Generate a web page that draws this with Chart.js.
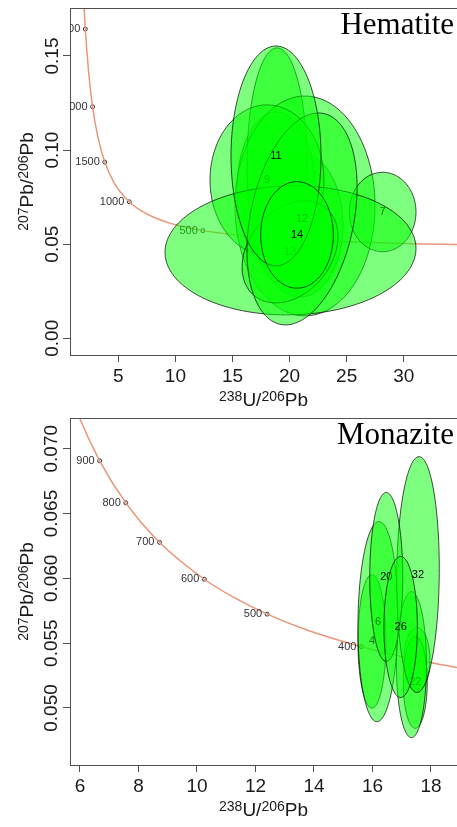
<!DOCTYPE html>
<html>
<head>
<meta charset="utf-8">
<script src="https://cdn.jsdelivr.net/npm/chart.js@4.4.1/dist/chart.umd.min.js"></script>
<style>
html, body { margin: 0; padding: 0; background: #fff; overflow: hidden; }
#wrap { position: relative; width: 457px; height: 827px; }
canvas { position: absolute; left: 0; }
</style>
</head>
<body>
<div id="wrap">
  <canvas id="hem" width="457" height="410" style="top:0"></canvas>
  <canvas id="mon" width="457" height="417" style="top:410px"></canvas>
</div>
<script>
// ---------- Hematite: U-Pb ellipses (centre, half-extent in x and y, correlation), in drawing order ----------
const hemLabels = ['',    '',    '',    '',    '8',   '9',   '7',   '',    '13',  '12',  '11',  '14'];
const hemX      = [20.74, 20.91, 18.81, 18.90, 21.35, 18.02, 28.15, 20.08, 20.04, 21.09, 18.81, 20.65];
const hemY      = [0.0565,0.0602,0.0788,0.0921,0.0703,0.0841,0.0671,0.0467,0.0459,0.0634,0.0969,0.0549];
const hemSX     = [2.98,  3.77,  3.42,  2.63,  6.13,  4.99,  2.92,  10.99, 4.20,  4.82,  3.94,  3.18];
const hemSY     = [0.0266,0.0383,0.0414,0.0622,0.0584,0.0399,0.0211,0.0343,0.0271,0.0563,0.0584,0.0283];
const hemRho    = [0,     0,     0,     0,     0,     0,     0,     0.03,  0.3,   0.3,   0,     0];

// Tera-Wasserburg concordia (238U/206Pb, 207Pb/206Pb) by age in Ma
const hemCurveAge = [2700, 2500, 2250, 2000, 1750, 1500, 1250, 1000, 850, 750, 650, 600, 500, 450, 400, 350, 300, 250, 225, 200, 175];
const hemCurveX   = [1.922, 2.111, 2.394, 2.749, 3.206, 3.817, 4.673, 5.959, 7.095, 8.105, 9.426, 10.252, 12.399, 13.831, 15.621, 17.923, 20.992, 25.289, 28.154, 31.735, 36.339];
const hemCurveY   = [0.1853, 0.1643, 0.1419, 0.1230, 0.1071, 0.0936, 0.0822, 0.0725, 0.0674, 0.0643, 0.0613, 0.0599, 0.0572, 0.0560, 0.0547, 0.0535, 0.0524, 0.0512, 0.0507, 0.0501, 0.0496];
const hemAgeTicks = [2500, 2000, 1500, 1000, 500];
const hemAgeX     = [2.111, 2.749, 3.817, 5.959, 12.399];
const hemAgeY     = [0.1643, 0.1230, 0.0936, 0.0725, 0.0572];

const hemXTicks = [5, 10, 15, 20, 25, 30];
const hemYTicks = [0.00, 0.05, 0.10, 0.15];

// ---------- Monazite ----------
const monLabels = ['4',    '6',    '',     '22',   '',     '32',   '20',   '26'];
const monX      = [15.983, 16.188, 17.521, 17.463, 17.333, 17.556, 16.472, 16.964];
const monY      = [0.05514,0.05666,0.05373,0.05198,0.05334,0.06029,0.06011,0.05625];
const monSX     = [0.479,  0.684,  0.444,  0.410,  0.513,  0.728,  0.564,  0.571];
const monSY     = [0.00515,0.00772,0.00247,0.00355,0.00563,0.00910,0.00652,0.00544];
const monRho    = [0,      0.05,   0,      0,      0,      0.05,   0,      0];

const monCurveAge = [1100, 1000, 900, 800, 700, 600, 550, 500, 450, 400, 375, 350, 325];
const monCurveX   = [5.375, 5.959, 6.674, 7.568, 8.718, 10.252, 11.228, 12.399, 13.831, 15.621, 16.695, 17.923, 19.339];
const monCurveY   = [0.07622, 0.07253, 0.06907, 0.06583, 0.06278, 0.05993, 0.05857, 0.05724, 0.05596, 0.05473, 0.05412, 0.05352, 0.05293];
const monAgeTicks = [900, 800, 700, 600, 500, 400];
const monAgeX     = [6.674, 7.568, 8.718, 10.252, 12.399, 15.621];
const monAgeY     = [0.06907, 0.06583, 0.06278, 0.05993, 0.05724, 0.05473];

const monXTicks = [6, 8, 10, 12, 14, 16, 18];
const monYTicks = [0.050, 0.055, 0.060, 0.065, 0.070];

// ---------- drawing helpers ----------
const SANS = '"Liberation Sans", Arial, Helvetica, sans-serif';
const SERIF = '"Liberation Serif", "Times New Roman", serif';
const AXIS_COL = '#505050';
const TEXT_COL = '#1a1a1a';

// isotope ratio label with superscript mass numbers
function drawRatio(ctx, parts, align) {
  const big = '19px ' + SANS, small = '14px ' + SANS;
  let w = 0;
  parts.forEach(p => { ctx.font = p.sup ? small : big; w += ctx.measureText(p.t).width; });
  let x = align === 'center' ? -w / 2 : 0;
  ctx.textAlign = 'left';
  ctx.textBaseline = 'alphabetic';
  parts.forEach(p => {
    ctx.font = p.sup ? small : big;
    ctx.fillText(p.t, x, p.sup ? -5 : 0);
    x += ctx.measureText(p.t).width;
  });
}

function ellipsePath(ctx, xs, ys, cx, cy, a, b, rho) {
  const n = 160, r2 = Math.sqrt(1 - rho * rho);
  ctx.beginPath();
  for (let i = 0; i <= n; i++) {
    const t = i / n * 2 * Math.PI;
    const px = xs.getPixelForValue(cx + a * Math.cos(t));
    const py = ys.getPixelForValue(cy + b * (rho * Math.cos(t) + r2 * Math.sin(t)));
    if (i === 0) ctx.moveTo(px, py); else ctx.lineTo(px, py);
  }
  ctx.closePath();
}

function concordiaPlugin(spec) {
  return {
    id: 'concordia',
    afterDatasetsDraw(chart) {
      const ctx = chart.ctx, area = chart.chartArea;
      const xs = chart.scales.x, ys = chart.scales.y;
      ctx.save();
      ctx.beginPath();
      ctx.rect(area.left, area.top, area.right - area.left, area.bottom - area.top);
      ctx.clip();
      // age labels beside the concordia markers
      ctx.font = '11px ' + SANS;
      ctx.fillStyle = '#333';
      ctx.textAlign = 'right';
      ctx.textBaseline = 'middle';
      spec.ages.forEach((age, i) => {
        ctx.fillText(String(age), xs.getPixelForValue(spec.ageX[i]) - 5, ys.getPixelForValue(spec.ageY[i]));
      });
      // error ellipses, each followed by its aliquot number
      const e = spec.ell;
      e.x.forEach((cx, i) => {
        ellipsePath(ctx, xs, ys, cx, e.y[i], e.sx[i], e.sy[i], e.rho[i]);
        ctx.fillStyle = 'rgba(0,255,0,0.5)';
        ctx.fill();
        ctx.strokeStyle = 'rgba(0,0,0,0.7)';
        ctx.lineWidth = 1;
        ctx.stroke();
        if (e.labels[i]) {
          ctx.font = '11px ' + SANS;
          ctx.fillStyle = '#000';
          ctx.textAlign = 'center';
          ctx.textBaseline = 'middle';
          ctx.fillText(e.labels[i], xs.getPixelForValue(cx), ys.getPixelForValue(e.y[i]));
        }
      });
      ctx.restore();
    },
    afterDraw(chart) {
      const ctx = chart.ctx, area = chart.chartArea;
      ctx.save();
      // top edge of the plot frame
      ctx.strokeStyle = AXIS_COL;
      ctx.lineWidth = 1;
      ctx.beginPath();
      ctx.moveTo(area.left, area.top + 0.5);
      ctx.lineTo(chart.width, area.top + 0.5);
      ctx.stroke();
      // mineral name
      ctx.fillStyle = '#000';
      ctx.font = '31px ' + SERIF;
      ctx.textAlign = 'right';
      ctx.textBaseline = 'alphabetic';
      ctx.fillText(spec.title, 454, area.top + 26);
      // axis titles
      ctx.fillStyle = TEXT_COL;
      ctx.save();
      ctx.translate((area.left + area.right) / 2, area.bottom + 51);
      drawRatio(ctx, [{t: '238', sup: true}, {t: 'U/'}, {t: '206', sup: true}, {t: 'Pb'}], 'center');
      ctx.restore();
      ctx.save();
      ctx.translate(33, (area.top + area.bottom) / 2);
      ctx.rotate(-Math.PI / 2);
      drawRatio(ctx, [{t: '207', sup: true}, {t: 'Pb/'}, {t: '206', sup: true}, {t: 'Pb'}], 'center');
      ctx.restore();
      ctx.restore();
    }
  };
}

function makeChart(id, spec) {
  const curve = spec.curveX.map((x, i) => ({x, y: spec.curveY[i]}));
  const marks = spec.ageX.map((x, i) => ({x, y: spec.ageY[i]}));
  return new Chart(document.getElementById(id), {
    type: 'scatter',
    data: {
      datasets: [
        {
          data: curve, showLine: true, pointRadius: 0,
          borderColor: '#E9967A', borderWidth: 1.5,
          cubicInterpolationMode: 'monotone', fill: false
        },
        {
          data: marks, showLine: false, pointRadius: 2,
          pointBorderColor: '#333', pointBackgroundColor: 'rgba(0,0,0,0)', pointBorderWidth: 1
        }
      ]
    },
    options: {
      responsive: false,
      animation: false,
      events: [],
      layout: { autoPadding: false, padding: { top: 8, left: 0, right: 0, bottom: 0 } },
      plugins: { legend: { display: false }, tooltip: { enabled: false } },
      scales: {
        x: {
          type: 'linear', min: spec.xMin, max: spec.xMax,
          afterBuildTicks: s => { s.ticks = spec.xTicks.map(v => ({value: v})); },
          afterFit: s => { s.height = spec.xAxisH; },
          grid: { drawOnChartArea: false, drawTicks: true, tickLength: 7, color: AXIS_COL, tickColor: AXIS_COL },
          border: { display: true, color: AXIS_COL, width: 1 },
          ticks: {
            autoSkip: false, minRotation: 0, maxRotation: 0, padding: 3,
            color: TEXT_COL, font: { family: SANS, size: 19 },
            callback: v => String(v)
          }
        },
        y: {
          type: 'linear', min: spec.yMin, max: spec.yMax,
          afterBuildTicks: s => { s.ticks = spec.yTicks.map(v => ({value: v})); },
          afterFit: s => { s.width = 70; },
          grid: { drawOnChartArea: false, drawTicks: true, tickLength: 7, color: AXIS_COL, tickColor: AXIS_COL },
          border: { display: true, color: AXIS_COL, width: 1 },
          ticks: {
            autoSkip: false, minRotation: 90, maxRotation: 90, crossAlign: 'center',
            padding: spec.yPad, color: TEXT_COL, font: { family: SANS, size: 19 },
            callback: v => v.toFixed(spec.yDigits)
          }
        }
      }
    },
    plugins: [concordiaPlugin(spec)]
  });
}

makeChart('hem', {
  title: 'Hematite',
  xMin: 0.77, xMax: 34.66, yMin: -0.0089, yMax: 0.1755,
  xTicks: hemXTicks, yTicks: hemYTicks, yDigits: 2, yPad: -8, xAxisH: 55,
  curveX: hemCurveX, curveY: hemCurveY,
  ages: hemAgeTicks, ageX: hemAgeX, ageY: hemAgeY,
  ell: { x: hemX, y: hemY, sx: hemSX, sy: hemSY, rho: hemRho, labels: hemLabels }
});

makeChart('mon', {
  title: 'Monazite',
  xMin: 5.66, xMax: 18.89, yMin: 0.0456, yMax: 0.07237,
  xTicks: monXTicks, yTicks: monYTicks, yDigits: 3, yPad: -13, xAxisH: 62,
  curveX: monCurveX, curveY: monCurveY,
  ages: monAgeTicks, ageX: monAgeX, ageY: monAgeY,
  ell: { x: monX, y: monY, sx: monSX, sy: monSY, rho: monRho, labels: monLabels }
});
</script>
</body>
</html>
